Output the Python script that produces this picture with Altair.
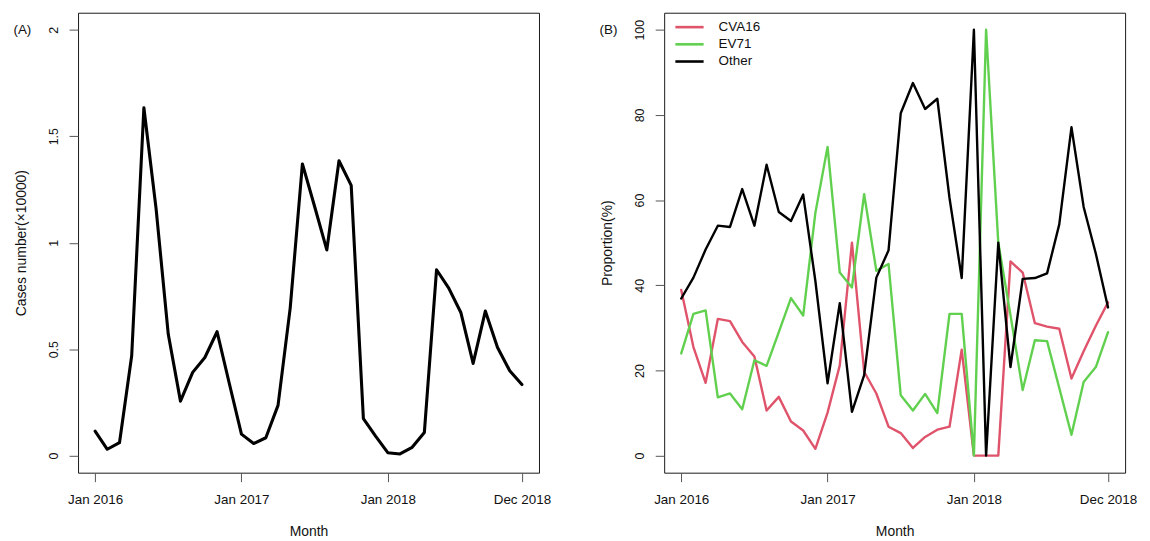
import altair as alt
import pandas as pd

# ---------------- data ----------------
month_index = list(range(36))  # Jan 2016 .. Dec 2018
tick_months = [0, 12, 24, 35]
tick_labels = ["Jan 2016", "Jan 2017", "Jan 2018", "Dec 2018"]

cases = [0.115, 0.030, 0.061, 0.469, 1.634, 1.16, 0.57, 0.256, 0.391, 0.461, 0.582, 0.34,
         0.101, 0.057, 0.084, 0.236, 0.694, 1.37, 1.17, 0.966, 1.385, 1.269, 0.174, 0.092,
         0.014, 0.008, 0.039, 0.109, 0.873, 0.787, 0.671, 0.433, 0.679, 0.508, 0.399, 0.334]

cva16 = [38.9, 25.5, 17.1, 32.1, 31.6, 26.7, 23.3, 10.6, 13.8, 8.0, 5.9, 1.6,
         10.1, 21.2, 50.0, 19.7, 14.6, 6.8, 5.3, 1.8, 4.4, 6.1, 6.8, 24.9,
         0.0, 0.0, 0.0, 45.6, 43.0, 31.1, 30.3, 29.8, 18.1, 24.5, 30.5, 36.0]
ev71 = [24.0, 33.3, 34.1, 13.7, 14.6, 10.9, 22.4, 21.1, 29.0, 37.0, 32.9, 57.0,
        72.5, 43.0, 39.5, 61.4, 43.4, 45.0, 14.2, 10.6, 14.5, 10.0, 33.3, 33.3,
        0.0, 100.0, 50.0, 33.0, 15.4, 27.1, 26.9, 15.9, 4.9, 17.3, 20.8, 29.0]
other = [36.9, 41.8, 48.4, 54.0, 53.7, 62.6, 54.0, 68.3, 57.2, 55.1, 61.3, 41.0,
         17.0, 35.8, 10.3, 18.9, 41.8, 48.2, 80.4, 87.5, 81.4, 83.8, 60.5, 41.7,
         100.0, 0.0, 50.0, 20.8, 41.5, 41.7, 42.8, 54.3, 77.1, 58.4, 47.4, 34.8]

series_names = ["CVA16", "EV71", "Other"]
series_colors = ["#DF536B", "#61D04F", "#000000"]

df_cases = pd.DataFrame({"month": month_index, "cases": cases})
df_prop = pd.concat(
    [pd.DataFrame({"month": month_index, "value": vals, "series": name})
     for name, vals in zip(series_names, [cva16, ev71, other])],
    ignore_index=True,
)

# ---------------- style ----------------
FONT = "Liberation Sans"
W, H = 464, 463
TXT = "#111111"

label_expr = "".join(f"datum.value == {m} ? '{l}' : " for m, l in zip(tick_months, tick_labels)) + "''"

x_scale = alt.Scale(domain=[-1.4, 36.4], nice=False, zero=False)


def x_axis():
    return alt.Axis(
        values=tick_months, labelExpr=label_expr, title="Month",
        domain=False, grid=False, tickSize=9, tickColor="#555555", tickWidth=1,
        labelPadding=11, labelFontSize=13.5, labelFont=FONT, labelColor=TXT,
        labelBaseline="top", labelAlign="center", labelOverlap=False, labelFlush=False,
        titleFont=FONT, titleFontSize=14, titleFontWeight="normal", titleColor=TXT,
        titleX=W / 2, titleY=59, titleBaseline="middle", titleAlign="center",
    )


def y_axis(values, title, fmt):
    return alt.Axis(
        values=values, format=fmt, title=title,
        domain=False, grid=False, tickSize=9, tickColor="#555555", tickWidth=1,
        labelPadding=12, labelFontSize=12.5, labelFont=FONT, labelColor=TXT,
        labelAngle=270, labelAlign="center", labelBaseline="alphabetic",
        labelOverlap=False, labelFlush=False,
        titleFont=FONT, titleFontSize=14, titleFontWeight="normal", titleColor=TXT,
        titleAngle=270, titleX=-53, titleY=H / 2, titleAlign="center",
        titleBaseline="alphabetic",
    )


def tag(text):
    return alt.Chart(pd.DataFrame({"tag": [text]})).mark_text(
        align="left", baseline="middle", fontSize=13.5, font=FONT, color=TXT
    ).encode(x=alt.value(-65), y=alt.value(17), text="tag:N")


# ---------------- panel A ----------------
left_line = alt.Chart(df_cases).mark_line(
    color="black", strokeWidth=3.1, strokeJoin="round", strokeCap="round"
).encode(
    x=alt.X("month:Q", scale=x_scale, axis=x_axis()),
    y=alt.Y("cases:Q", scale=alt.Scale(domain=[-0.08, 2.08], nice=False, zero=False),
            axis=y_axis([0, 0.5, 1, 1.5, 2], "Cases number(×10000)", "~g")),
)
left = alt.layer(left_line, tag("(A)")).properties(width=W, height=H)

# ---------------- panel B ----------------
legend = alt.Legend(
    title=None, orient="none", legendX=11, legendY=6, padding=0,
    symbolType="M-2,0H2", symbolSize=202, symbolStrokeWidth=2.6, symbolOffset=6,
    labelFont=FONT, labelFontSize=13.5, labelColor=TXT, labelOffset=20.8,
    rowPadding=2.3,
)
right_lines = alt.Chart(df_prop).mark_line(
    strokeWidth=2.4, strokeJoin="round", strokeCap="round"
).encode(
    x=alt.X("month:Q", scale=x_scale, axis=x_axis()),
    y=alt.Y("value:Q", scale=alt.Scale(domain=[-4, 104], nice=False, zero=False),
            axis=y_axis([0, 20, 40, 60, 80, 100], "Proportion(%)", "d")),
    color=alt.Color("series:N", scale=alt.Scale(domain=series_names, range=series_colors),
                    legend=legend),
)
right = alt.layer(right_lines, tag("(B)")).properties(width=W, height=H)

chart = (
    alt.hconcat(left, right, spacing=126, bounds="flush")
    .resolve_legend(color="independent")
    .resolve_scale(color="independent")
    .properties(padding={"left": 4.5, "top": 2, "right": 4, "bottom": 0})
    .configure(font=FONT)
    .configure_view(stroke="#1a1a1a", strokeWidth=1)
)

chart.save("out.html", embed_options={"renderer": "svg", "actions": False})
